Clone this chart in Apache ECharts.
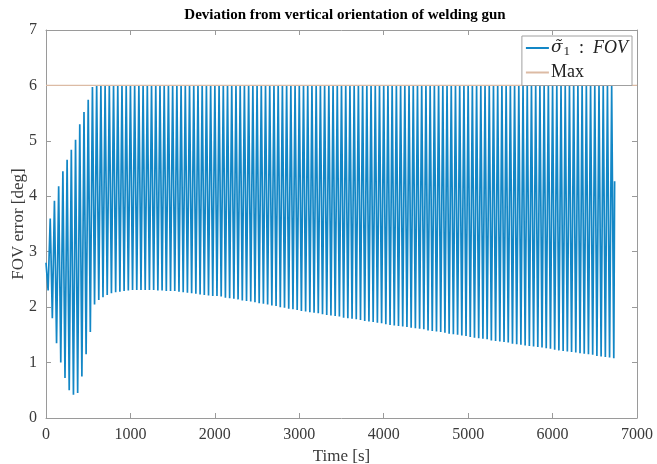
<!DOCTYPE html>
<html>
<head>
<meta charset="utf-8">
<script src="https://cdn.jsdelivr.net/npm/echarts@6/dist/echarts.min.js"></script>
<style>html,body{margin:0;padding:0;background:#fff;}#c{width:657px;height:464px;}</style>
</head>
<body>
<div id="c"></div>
<script>
// ---- data ----
const xTicks = [0, 1000, 2000, 3000, 4000, 5000, 6000, 7000];
const yTicks = [0, 1, 2, 3, 4, 5, 6, 7];
const startPoint = [0, 2.8];          // time [s], FOV error [deg]
const cyclePeriodS = 50;              // spacing of oscillation cycles [s]
const firstTroughS = 25;              // time of first trough [s]
// trough (minimum) of each cycle, in order
const troughValues = [
 2.3,1.8,1.35,1.0,0.72,0.5,0.42,0.45,0.75,1.15,1.55,2.05,2.13,2.18,2.22,2.25,2.27,2.28,2.29,2.30,2.31,2.31,2.31,2.31,2.31,
 2.31,2.30,2.30,2.29,2.29,2.29,2.28,2.27,2.26,2.25,2.24,2.23,2.22,2.21,2.20,
 2.20,2.19,2.17,2.16,2.15,2.14,2.12,2.11,2.10,2.09,
 2.07,2.06,2.05,2.03,2.02,2.00,1.99,1.97,1.96,1.95,
 1.93,1.92,1.91,1.90,1.89,1.87,1.86,1.85,1.84,1.83,
 1.81,1.80,1.79,1.78,1.77,1.75,1.74,1.73,1.72,1.71,
 1.69,1.68,1.67,1.66,1.65,1.64,1.63,1.62,1.61,1.60,
 1.58,1.57,1.56,1.55,1.54,1.52,1.51,1.50,1.49,1.48,
 1.46,1.45,1.44,1.43,1.42,1.40,1.39,1.38,1.37,1.36,
 1.34,1.33,1.32,1.31,1.30,1.29,1.28,1.27,1.26,1.25,
 1.23,1.22,1.21,1.20,1.19,1.18,1.17,1.16,1.15,1.14,
 1.12,1.11,1.10,1.09,1.08
];
// peak (maximum) following each trough, in order
const peakValues = [
 3.6,3.92,4.18,4.45,4.66,4.84,5.02,5.3,5.52,5.74,5.97,
 6,6,6,6,6,6,6,6,6,6,6,6,6,6,6,6,6,6,6,6,6,6,6,6,6,6,6,6,6,6,
 6,6,6,6,6,6,6,6,6,6,6,6,6,6,6,6,6,6,6,6,6,6,6,6,6,6,6,6,6,6,
 6,6,6,6,6,6,6,6,6,6,6,6,6,6,6,6,6,6,6,6,6,6,6,6,6,6,6,6,6,6,
 6,6,6,6,6,6,6,6,6,6,6,6,6,6,6,6,6,6,6,6,6,6,6,6,6,6,6,6,6,6,
 6,6,6
];
const endPoint = [6735, 4.27];
const maxTimes = [0, 7000];
const maxValues = [6, 6];

// ---- build series ----
const fovData = [startPoint];
for (let k = 0; k < troughValues.length; k++) {
  const tT = firstTroughS + k * cyclePeriodS;
  fovData.push([tT, troughValues[k]]);
  if (k < peakValues.length) fovData.push([tT + cyclePeriodS / 2, peakValues[k]]);
}
fovData.push(endPoint);
const maxData = maxTimes.map((t, i) => [t, maxValues[i]]);

const serif = '"Liberation Serif", "DejaVu Serif", serif';
const axisCol = '#9a9a9a';
const labelCol = '#3a3a3a';
const blue = '#1387c6';
const tan = '#dcbba4';

const chart = echarts.init(document.getElementById('c'), null, {renderer: 'canvas'});
const baseX = {
  type: 'value', min: 0, max: 7000, interval: 1000,
  axisLine: {show: true, onZero: false, lineStyle: {color: axisCol, width: 1}},
  axisTick: {show: true, inside: true, length: 5, lineStyle: {color: axisCol}},
  splitLine: {show: false}
};
const baseY = {
  type: 'value', min: 0, max: 7, interval: 1,
  axisLine: {show: true, onZero: false, lineStyle: {color: axisCol, width: 1}},
  axisTick: {show: true, inside: true, length: 5, lineStyle: {color: axisCol}},
  splitLine: {show: false}
};
chart.setOption({
  animation: false,
  backgroundColor: '#fff',
  title: {
    text: 'Deviation from vertical orientation of welding gun',
    left: 340, top: 3, textAlign: 'center',
    textStyle: {fontFamily: serif, fontWeight: 'bold', fontSize: 15, color: '#000'}
  },
  grid: {left: 46, right: 20, top: 30, bottom: 46, containLabel: false, outerBoundsMode: 'none'},
  legend: {
    orient: 'vertical', right: 25, top: 36,
    backgroundColor: '#fff', borderColor: '#a0a0a0', borderWidth: 1,
    padding: [3, 4, 4, 4], itemGap: 5,
    itemWidth: 23, itemHeight: 2, icon: 'rect',
    data: ['σ̃1 : FOV', 'Max'],
    formatter: function (n) {
      return n === 'Max' ? '{n|Max}' : '{g|σ̃}{s|1}{n|  :  }{i|FOV}';
    },
    textStyle: {
      fontFamily: serif, fontSize: 18, color: '#222', padding: [0, 0, 0, -3],
      rich: {
        n: {fontFamily: serif, fontSize: 18, color: '#222'},
        g: {fontFamily: '"DejaVu Serif", serif', fontSize: 17, fontStyle: 'italic', color: '#222'},
        i: {fontFamily: serif, fontSize: 18, fontStyle: 'italic', color: '#222'},
        s: {fontFamily: serif, fontSize: 13, color: '#222', padding: [8, 0, 0, 1]}
      }
    }
  },
  xAxis: [
    Object.assign({}, baseX, {
      position: 'bottom',
      name: 'Time [s]', nameLocation: 'middle', nameGap: 30, nameMoveOverlap: false,
      nameTextStyle: {fontFamily: serif, fontSize: 17, color: labelCol},
      axisLabel: {fontFamily: serif, fontSize: 16, color: labelCol, margin: 9,
        formatter: v => xTicks.includes(v) ? String(v) : ''}
    }),
    Object.assign({}, baseX, {position: 'top', axisLabel: {show: false}})
  ],
  yAxis: [
    Object.assign({}, baseY, {
      position: 'left',
      name: 'FOV error [deg]', nameLocation: 'middle', nameGap: 19, nameMoveOverlap: false,
      nameTextStyle: {fontFamily: serif, fontSize: 17, color: labelCol},
      axisLabel: {fontFamily: serif, fontSize: 16, color: labelCol, margin: 9,
        formatter: v => yTicks.includes(v) ? String(v) : ''}
    }),
    Object.assign({}, baseY, {position: 'right', axisLabel: {show: false}})
  ],
  series: [
    {
      name: 'σ̃1 : FOV', type: 'line', data: fovData, showSymbol: false, symbol: 'none',
      sampling: null, lineStyle: {color: blue, width: 1.7}, itemStyle: {color: blue}, z: 2
    },
    {
      name: 'Max', type: 'line', data: maxData, showSymbol: false, symbol: 'none',
      lineStyle: {color: tan, width: 1.2}, itemStyle: {color: tan}, z: 3
    }
  ]
});
</script>
</body>
</html>
